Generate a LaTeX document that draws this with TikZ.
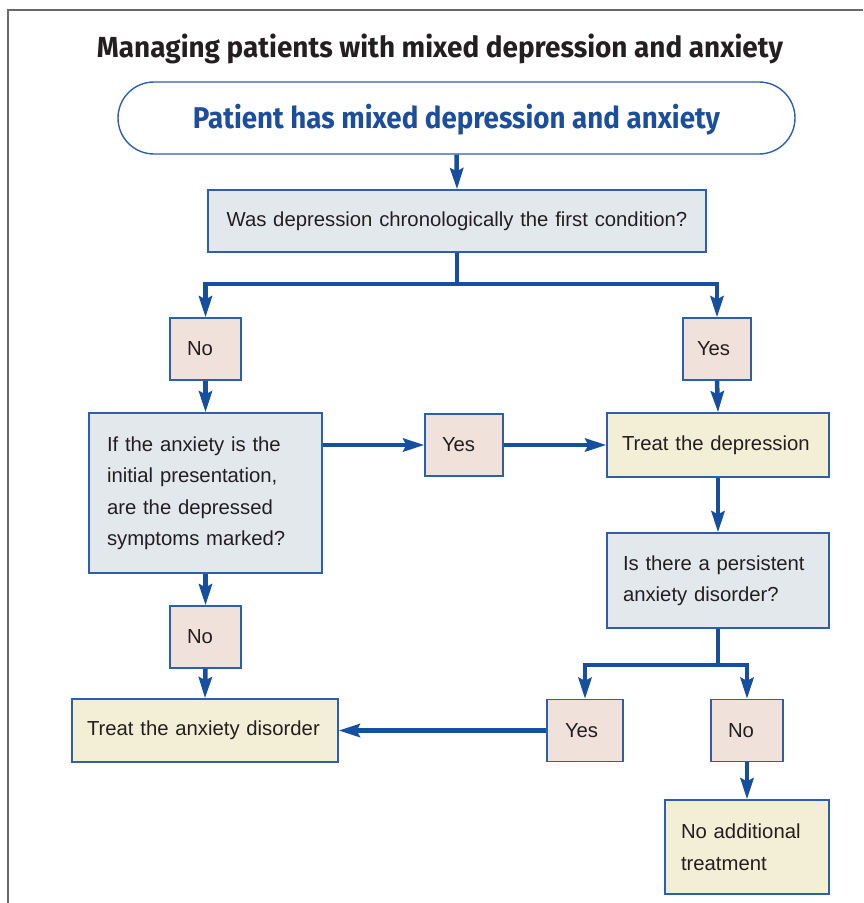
\documentclass[tikz,border=0pt]{standalone}
\usepackage{fontspec}
\setmainfont{Liberation Sans}
\newfontfamily\titlefont{Fira Sans}
\usetikzlibrary{arrows.meta}

\tikzset{
  box/.style={draw=boxline, line width=1.4pt, inner ysep=0pt, align=left,
    text=ink, font=\fontsize{20.3}{31.5}\selectfont},
  qbox/.style={box, fill=qfill},
  ansbox/.style={box, fill=ansfill},
  actbox/.style={box, fill=actfill},
  arr/.style={draw=lineblue, line width=4.5pt,
    -{Stealth[length=21pt, width=13pt, inset=3pt]}}
}

\begin{document}
\begin{tikzpicture}[x=1pt, y=-1pt]

% === Colors ===
\definecolor{lineblue}{RGB}{22,78,160}
\definecolor{boxline}{RGB}{45,95,172}
\definecolor{headblue}{RGB}{28,78,158}
\definecolor{ink}{RGB}{35,31,32}
\definecolor{framegray}{RGB}{105,105,105}
\definecolor{qfill}{RGB}{227,232,236}
\definecolor{ansfill}{RGB}{240,225,219}
\definecolor{actfill}{RGB}{243,239,214}

\useasboundingbox (0,0) rectangle (863,903);

% === Frame (top and left edge) ===
\draw[framegray, line width=1.5pt] (8,903) -- (8,10) -- (863,10);

% === Title ===
\node[anchor=base, text=ink, font=\titlefont\bfseries\fontsize{29}{32}\selectfont]
  (title) at (440,57) {\resizebox{686pt}{\height}{Managing patients with mixed depression and anxiety}};

% === Start box ===
\node[draw=boxline, line width=1.4pt, fill=white, rounded corners=36pt,
  minimum width=677pt, minimum height=72pt, text=headblue,
  text height=20.6pt, text depth=0pt,
  font=\titlefont\bfseries\fontsize{30}{33}\selectfont]
  (start) at (456.5,118) {\resizebox{527pt}{\height}{Patient has mixed depression and anxiety}};

% === Questions ===
\node[qbox, align=center, inner xsep=16pt, text width=466pt, minimum height=62pt]
  (q1) at (457,221) {Was depression chronologically the first condition?};
\node[qbox, inner xsep=18pt, text width=197pt, minimum height=160pt]
  (q2) at (205.5,493) {If the anxiety is the\\initial presentation,\\are the depressed\\symptoms marked?};
\node[qbox, inner xsep=16pt, text width=190pt, minimum height=95pt]
  (q3) at (718,580.5) {Is there a persistent\\anxiety disorder?};

% === Yes / No answers ===
\foreach \nm/\x/\y/\pad/\w/\t in {
  no1/205.5/349/17/37/No,
  yes1/717/349/14/40/Yes,
  yes2/464/445/17/44/Yes,
  no2/205.5/637/17/37/No,
  yes3/585/730.5/18/40/Yes,
  no3/747/730.5/17/38/No
}{
  \node[ansbox, inner xsep=\pad pt, text width=\w pt, minimum height=62pt]
    (\nm) at (\x,\y) {\t};
}

% === Actions ===
\node[actbox, inner xsep=15pt, text width=192pt, minimum height=64pt]
  (tdep) at (718,445) {Treat the depression};
\node[actbox, inner xsep=15pt, text width=236pt, minimum height=63pt]
  (tanx) at (205,730.5) {Treat the anxiety disorder};
\node[actbox, inner xsep=16pt, text width=132pt, minimum height=94pt]
  (noadd) at (747,847) {No additional\\treatment};

% === Connectors ===
\coordinate (split1) at (457,284);
\coordinate (split2) at (718,665);

\draw[arr] (start.south) -- (q1.north);
\draw[arr] (q1.south) -- (split1) -| (no1.north);
\draw[arr] (split1) -| (yes1.north);
\draw[arr] (no1.south) -- (q2.north);
\draw[arr] (q2.east |- yes2.west) -- (yes2.west);
\draw[arr] (yes2.east) -- (tdep.west);
\draw[arr] (yes1.south) -- (tdep.north);
\draw[arr] (q2.south) -- (no2.north);
\draw[arr] (no2.south) -- (tanx.north);
\draw[arr] (tdep.south) -- (q3.north);
\draw[arr] (q3.south) -- (split2) -| (yes3.north);
\draw[arr] (split2) -| (no3.north);
\draw[arr] (yes3.west) -- (tanx.east);
\draw[arr] (no3.south) -- (noadd.north);

\end{tikzpicture}
\end{document}
